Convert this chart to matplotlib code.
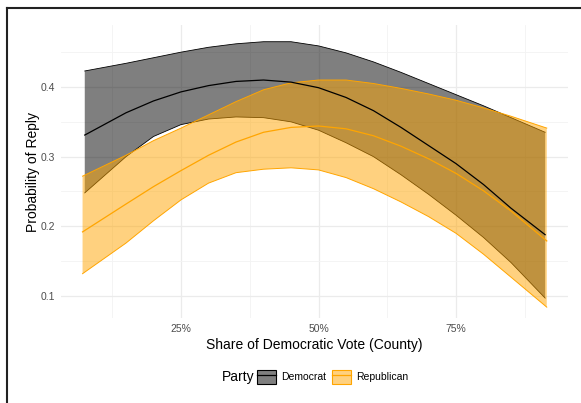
import matplotlib.pyplot as plt
import numpy as np
from matplotlib.lines import Line2D
from matplotlib.patches import Patch
from matplotlib.legend_handler import HandlerTuple
from matplotlib.ticker import PercentFormatter, FixedLocator

plt.rcParams['font.family'] = ['Liberation Sans', 'DejaVu Sans']

# Predicted probability of reply by county Democratic vote share
dem_x = [0.075, 0.15, 0.20, 0.25, 0.30, 0.35, 0.40, 0.45, 0.50, 0.55, 0.60,
         0.65, 0.70, 0.75, 0.80, 0.85, 0.912]
dem_fit = [0.331, 0.363, 0.380, 0.393, 0.402, 0.408, 0.410, 0.407, 0.399, 0.385,
           0.366, 0.342, 0.316, 0.290, 0.260, 0.226, 0.188]
dem_lo = [0.248, 0.300, 0.329, 0.346, 0.354, 0.357, 0.356, 0.350, 0.338, 0.320,
          0.300, 0.274, 0.246, 0.216, 0.184, 0.148, 0.097]
dem_hi = [0.423, 0.434, 0.442, 0.450, 0.457, 0.462, 0.465, 0.465, 0.459, 0.449,
          0.436, 0.421, 0.405, 0.389, 0.373, 0.356, 0.335]

rep_x = [0.071, 0.15, 0.20, 0.25, 0.30, 0.35, 0.40, 0.45, 0.50, 0.55, 0.60,
         0.65, 0.70, 0.75, 0.80, 0.85, 0.915]
rep_fit = [0.192, 0.232, 0.257, 0.280, 0.302, 0.321, 0.335, 0.342, 0.344, 0.340,
           0.330, 0.315, 0.297, 0.276, 0.251, 0.222, 0.179]
rep_lo = [0.132, 0.176, 0.208, 0.238, 0.262, 0.277, 0.282, 0.284, 0.281, 0.270,
          0.254, 0.235, 0.214, 0.190, 0.160, 0.127, 0.084]
rep_hi = [0.272, 0.302, 0.323, 0.341, 0.360, 0.379, 0.396, 0.406, 0.410, 0.410,
          0.405, 0.398, 0.390, 0.381, 0.370, 0.358, 0.341]

x_ticks = [0.25, 0.50, 0.75]
x_minor = [0.125, 0.375, 0.625, 0.875]
y_ticks = [0.1, 0.2, 0.3, 0.4]
y_minor = [0.15, 0.25, 0.35, 0.45]

dem_col = 'black'
rep_col = '#FFA500'

fig = plt.figure(figsize=(5.81, 4.03), dpi=100)
ax = fig.add_axes([61 / 581, 1 - 318 / 403, 507 / 581, 293 / 403])

# ribbons first, then the fitted lines on top
ax.fill_between(dem_x, dem_lo, dem_hi, facecolor=dem_col, alpha=0.5, lw=0, zorder=2)
ax.plot(dem_x, dem_lo, color=dem_col, lw=0.6, zorder=2)
ax.plot(dem_x, dem_hi, color=dem_col, lw=0.6, zorder=2)
ax.fill_between(rep_x, rep_lo, rep_hi, facecolor=rep_col, alpha=0.5, lw=0, zorder=3)
ax.plot(rep_x, rep_lo, color=rep_col, lw=0.7, zorder=3)
ax.plot(rep_x, rep_hi, color=rep_col, lw=0.7, zorder=3)
ax.plot(dem_x, dem_fit, color=dem_col, lw=0.9, zorder=4)
ax.plot(rep_x, rep_fit, color=rep_col, lw=0.9, zorder=4)

ax.set_xlim(0.0318, 0.9536)
ax.set_ylim(0.0684, 0.489)
ax.xaxis.set_major_locator(FixedLocator(x_ticks))
ax.xaxis.set_minor_locator(FixedLocator(x_minor))
ax.yaxis.set_major_locator(FixedLocator(y_ticks))
ax.yaxis.set_minor_locator(FixedLocator(y_minor))
ax.xaxis.set_major_formatter(PercentFormatter(xmax=1, decimals=0))
ax.grid(which='major', color='#EBEBEB', lw=0.9, zorder=0)
ax.grid(which='minor', color='#F3F3F3', lw=0.6, zorder=0)
ax.set_axisbelow(True)
for s in ax.spines.values():
    s.set_visible(False)
ax.tick_params(which='both', length=0, labelsize=7.5, labelcolor='#4D4D4D', pad=4)

ax.set_xlabel('Share of Democratic Vote (County)', fontsize=10, labelpad=3)
ax.set_ylabel('Probability of Reply', fontsize=10, labelpad=1)

# legend along the bottom
handles = [
    (Patch(facecolor=(0, 0, 0, 0.5), edgecolor=dem_col, lw=0.8),
     Line2D([], [], color=dem_col, lw=0.9)),
    (Patch(facecolor=(1.0, 0.647, 0.0, 0.5), edgecolor=rep_col, lw=0.8),
     Line2D([], [], color=rep_col, lw=0.9)),
]
fig.text(222 / 581, 1 - 377 / 403, 'Party', fontsize=10, va='center')
fig.legend(handles, ['Democrat', 'Republican'], ncol=2, frameon=False,
           loc='center left', bbox_to_anchor=(257 / 581, 1 - 377 / 403),
           fontsize=7.5, handlelength=1.8, handleheight=1.8, handletextpad=0.5,
           columnspacing=0.6, borderpad=0, borderaxespad=0,
           handler_map={tuple: HandlerTuple(ndivide=1, pad=0)})

# outer frame on top and left
fig.add_artist(Line2D([7 / 581, 1], [1 - 8 / 403, 1 - 8 / 403], color='#222222', lw=1.5))
fig.add_artist(Line2D([7 / 581, 7 / 581], [0, 1 - 8 / 403], color='#222222', lw=1.5))

fig.savefig('out.png', dpi=100)
